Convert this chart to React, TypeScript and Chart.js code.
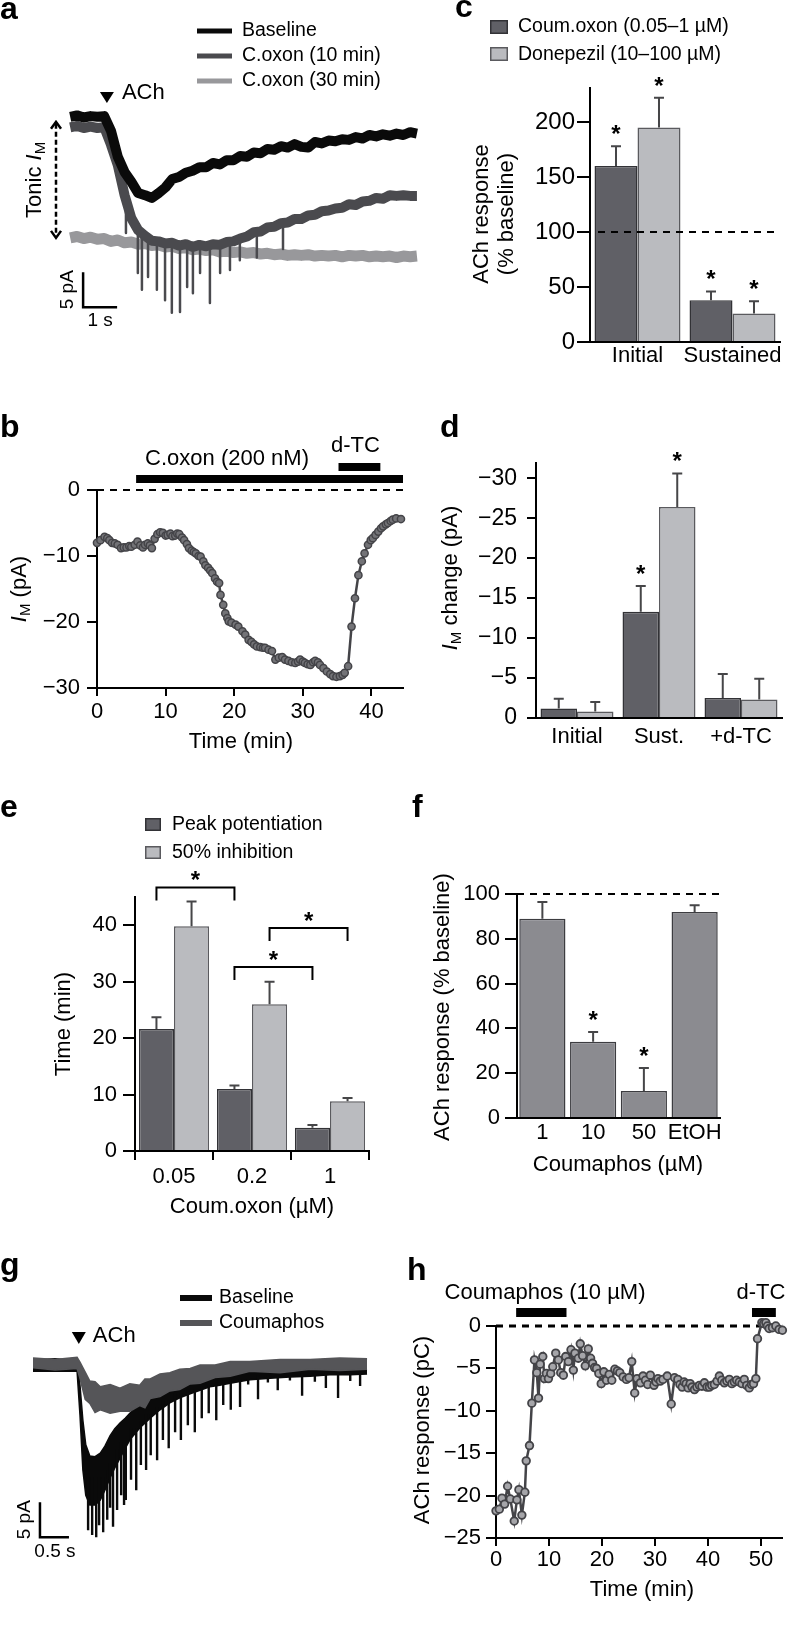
import React, { useEffect, useRef } from 'react';
import { Chart, registerables } from 'chart.js';

Chart.register(...registerables);

const FONT = "'Liberation Sans', Arial, Helvetica, sans-serif";
Chart.defaults.font.family = FONT;
Chart.defaults.color = '#000';

const DARK = 'rgb(96,96,102)';
const DARK_EDGE = 'rgb(50,50,54)';
const LIGHT = 'rgb(186,187,191)';
const LIGHT_EDGE = 'rgb(90,90,94)';
const MID = 'rgb(139,139,144)';
const ERR = 'rgb(70,70,72)';
const LINE = 'rgb(68,68,72)';

// ---------------- Panel a : ACh currents ----------------
const aLegend = ['Baseline', 'C.oxon (10 min)', 'C.oxon (30 min)'];
const aTime = [0.3, 0.5, 0.7, 0.9, 1.1, 1.3, 1.5, 1.7, 1.9, 2.1, 2.3, 2.5, 2.7, 2.9, 3.1, 3.3, 3.5, 3.7, 3.9, 4.1, 4.3, 4.5, 4.7, 4.9, 5.1, 5.3, 5.5, 5.7, 5.9, 6.1, 6.3, 6.5, 6.7, 6.9, 7.1, 7.3, 7.5, 7.7, 7.9, 8.1, 8.3, 8.5, 8.7, 8.9, 9.1, 9.3, 9.5, 9.7, 9.9, 10.1, 10.3, 10.5];
const aBaseline = [-2.4, -2.2, -2.5, -2.3, -2.4, -2.3, -4.4, -8.1, -10.3, -11.7, -13.3, -13.6, -14.0, -13.3, -12.5, -11.3, -11.0, -10.4, -10.1, -9.6, -9.6, -9.0, -9.2, -8.6, -8.6, -8.0, -8.1, -7.5, -7.6, -7.0, -7.1, -6.6, -6.8, -6.3, -6.7, -6.8, -6.0, -6.2, -5.8, -5.9, -5.6, -5.7, -5.3, -5.5, -5.0, -5.2, -4.9, -5.1, -4.8, -5.0, -4.6, -4.8];
const aCoxon10 = [-3.9, -3.7, -4.0, -3.8, -4.0, -3.9, -6.4, -9.3, -13.6, -16.9, -18.6, -19.4, -20.1, -20.2, -20.5, -20.4, -20.8, -20.6, -21.0, -20.7, -20.9, -20.6, -20.7, -20.3, -20.2, -19.8, -19.5, -18.9, -18.8, -18.2, -18.1, -17.6, -17.5, -17.0, -17.0, -16.5, -16.4, -15.9, -15.8, -15.5, -15.4, -14.9, -15.0, -14.5, -14.4, -14.0, -14.1, -13.6, -13.7, -13.6, -13.7, -13.7];
const aCoxon30 = [-19.7, -19.5, -19.8, -19.6, -19.9, -19.8, -20.2, -20.0, -20.4, -20.3, -20.6, -20.5, -20.8, -20.7, -21.0, -20.9, -21.2, -21.1, -21.4, -21.3, -21.5, -21.4, -21.7, -21.6, -21.8, -21.7, -21.9, -21.8, -22.0, -21.9, -22.1, -22.0, -22.2, -22.1, -22.2, -22.1, -22.3, -22.2, -22.3, -22.2, -22.4, -22.2, -22.3, -22.2, -22.4, -22.3, -22.4, -22.3, -22.5, -22.3, -22.4, -22.3];
const aSpikeTime = [1.94, 2.29, 2.41, 2.59, 2.85, 3.09, 3.29, 3.53, 3.74, 3.91, 4.12, 4.41, 4.71, 5.0, 5.29, 5.79, 6.56];
const aSpikeTop = [-14.5, -18.5, -19.0, -19.5, -20.0, -20.2, -20.5, -20.5, -20.5, -20.5, -20.5, -20.5, -20.5, -20.0, -19.5, -18.8, -17.5];
const aSpikeBottom = [-19.0, -24.7, -27.1, -25.3, -27.1, -28.6, -30.4, -30.3, -26.7, -27.6, -24.7, -29.0, -24.7, -24.3, -22.9, -22.5, -21.3];
const aAchTime = 1.38;
const aScaleBarT = 0.68;
const aScaleBarV = -29.6;

// ---------------- Panel b : I_M time course ----------------
const bTime = [0.0, 0.5, 1.1, 1.5, 1.8, 2.2, 2.6, 3.0, 3.5, 3.9, 4.3, 4.7, 5.0, 5.5, 5.9, 6.3, 6.7, 7.0, 7.4, 7.7, 8.0, 8.4, 8.8, 9.2, 9.6, 10.0, 10.3, 10.7, 11.0, 11.4, 11.7, 12.0, 12.4, 12.7, 13.1, 13.4, 13.8, 14.1, 14.4, 14.8, 15.1, 15.5, 15.8, 16.2, 16.5, 16.8, 17.2, 17.5, 17.8, 18.0, 18.4, 18.7, 19.0, 19.2, 19.6, 20.2, 20.6, 21.2, 21.6, 22.1, 22.5, 22.9, 23.3, 23.8, 24.2, 24.5, 25.0, 25.5, 26.0, 26.5, 27.0, 27.4, 27.9, 28.4, 28.9, 29.3, 29.6, 30.0, 30.3, 30.7, 31.1, 31.5, 31.8, 32.2, 32.5, 33.0, 33.5, 34.0, 34.4, 34.9, 35.4, 35.8, 36.1, 36.6, 37.1, 37.6, 38.1, 38.6, 39.0, 39.5, 39.9, 40.2, 40.6, 41.0, 41.4, 41.7, 42.1, 42.4, 42.8, 43.1, 43.6, 44.3];
const bCurrent = [-8.0, -7.6, -7.1, -7.3, -7.6, -8.0, -8.1, -8.3, -8.8, -8.7, -8.7, -8.5, -8.6, -8.3, -7.8, -8.4, -8.7, -8.3, -8.1, -8.4, -8.8, -7.4, -6.7, -6.4, -6.5, -6.9, -6.8, -6.6, -7.0, -6.9, -6.6, -6.7, -7.2, -7.6, -8.2, -8.8, -9.2, -9.4, -9.6, -10.0, -10.1, -10.8, -11.4, -11.8, -12.2, -12.6, -13.4, -13.9, -14.1, -15.9, -17.4, -18.7, -19.4, -19.9, -20.1, -20.4, -20.7, -21.4, -21.9, -22.7, -23.0, -23.4, -23.7, -23.8, -23.9, -23.9, -24.2, -24.4, -25.7, -25.4, -25.3, -25.7, -25.9, -26.1, -26.2, -26.0, -25.7, -26.0, -26.2, -26.4, -26.5, -26.1, -25.9, -26.1, -26.5, -27.0, -27.5, -27.9, -28.2, -28.3, -28.2, -28.0, -27.7, -26.7, -20.7, -16.4, -12.9, -10.8, -9.6, -8.3, -7.6, -7.3, -6.8, -6.3, -5.8, -5.5, -5.2, -5.0, -4.7, -4.5, -4.3, -4.4];
const bTicksX = [0, 10, 20, 30, 40];
const bTicksY = [0, -10, -20, -30];
const bCoxonBar = [5.7, 44.6];
const bDtcBar = [35.2, 41.3];

// ---------------- Panel c : ACh response ----------------
const cCategories = ['Initial', 'Sustained'];
const cSeries = ['Coum.oxon (0.05\u20131 \u00b5M)', 'Donepezil (10\u2013100 \u00b5M)'];
const cCoumoxon = [160, 38];
const cCoumoxonSem = [18, 8];
const cCoumoxonStar = [true, true];
const cDonepezil = [195, 26];
const cDonepezilSem = [27, 11];
const cDonepezilStar = [true, true];
const cTicks = [0, 50, 100, 150, 200];
const cYTitle = ['ACh response', '(% baseline)'];

// ---------------- Panel d : I_M change ----------------
const dCategories = ['Initial', 'Sust.', '+d-TC'];
const dCoumoxon = [-1.2, -13.3, -2.5];
const dCoumoxonSem = [1.2, 3.2, 3.0];
const dCoumoxonStar = [false, true, false];
const dDonepezil = [-0.8, -26.4, -2.3];
const dDonepezilSem = [1.2, 4.2, 2.6];
const dDonepezilStar = [false, true, false];
const dTicks = [0, -5, -10, -15, -20, -25, -30];

// ---------------- Panel e : timing ----------------
const eCategories = ['0.05', '0.2', '1'];
const eSeries = ['Peak potentiation', '50% inhibition'];
const ePeak = [21.6, 11.0, 4.1];
const ePeakSem = [2.1, 0.6, 0.5];
const eHalf = [39.8, 26.0, 8.8];
const eHalfSem = [4.4, 4.0, 0.6];
const eTicks = [0, 10, 20, 30, 40];
const eBracketSeries = [0, 0, 1];
const eBracketFrom = [0, 1, 1];
const eBracketTo = [1, 2, 2];
const eBracketLevel = [46.7, 32.6, 39.5];

// ---------------- Panel f : coumaphos ----------------
const fCategories = ['1', '10', '50', 'EtOH'];
const fResponse = [89, 34, 12, 92];
const fSem = [7.4, 4.4, 10.3, 3.0];
const fStar = [false, true, true, false];
const fTicks = [0, 20, 40, 60, 80, 100];

// ---------------- Panel g : traces ----------------
const gLegend = ['Baseline', 'Coumaphos'];
const gBodyTime = [0, 0.38, 0.76, 0.81, 0.86, 0.91, 0.98, 1.07, 1.16, 1.24, 1.33, 1.41, 1.5, 1.59, 1.67, 1.84, 2.02, 2.19, 2.36, 2.53, 2.71, 2.88, 3.05, 3.22, 3.4, 3.74, 4.09, 4.43, 4.78, 5.12, 5.47, 5.76];
const gBaseUpper = [0.7, 0.9, 0.6, -2.9, -7.9, -11.4, -13.0, -13.1, -12.6, -11.6, -10.1, -9.1, -8.3, -7.6, -6.9, -5.6, -4.7, -4.0, -3.4, -3.0, -2.7, -2.4, -2.0, -1.7, -1.4, -0.7, -0.3, 0.0, 0.3, 0.4, 0.7, 0.9];
const gBaseLower = [-0.9, -0.9, -0.9, -7.1, -15.0, -18.6, -20.0, -20.0, -19.3, -17.9, -16.1, -14.7, -13.3, -11.9, -10.7, -9.0, -7.6, -6.4, -5.4, -4.7, -4.1, -3.6, -3.1, -2.9, -2.6, -2.1, -1.9, -1.7, -1.6, -1.4, -1.4, -1.3];
const gSpikeTime = [0.95, 1.02, 1.09, 1.14, 1.21, 1.28, 1.33, 1.38, 1.45, 1.52, 1.57, 1.6, 1.69, 1.78, 1.86, 1.95, 2.03, 2.14, 2.24, 2.34, 2.45, 2.55, 2.67, 2.79, 2.91, 3.03, 3.16, 3.28, 3.41, 3.57, 3.71, 3.88, 4.05, 4.22, 4.43, 4.64, 4.86, 5.05, 5.26, 5.47, 5.64];
const gSpikeTop = [-16, -16, -16, -16, -16, -15, -14, -14, -12, -11, -11, -11, -9, -9, -8, -7, -7, -6, -5, -5, -4, -4, -3.5, -3.5, -3, -3, -2.5, -2.5, -2, -2, -2, -1.5, -1.5, -1.5, -1.5, -1.2, -1.2, -1.2, -1.2, -1.2, -1.2];
const gSpikeBottom = [-23.6, -24.3, -24.6, -22.9, -23.9, -22.1, -20.4, -23.1, -20.7, -18.6, -20.0, -19.3, -16.4, -17.9, -14.3, -15.0, -12.9, -13.6, -10.7, -11.9, -9.6, -10.7, -8.6, -9.6, -7.6, -6.9, -7.9, -5.7, -6.4, -6.0, -2.8, -4.9, -2.5, -3.6, -2.2, -4.4, -2.4, -3.3, -4.7, -2.3, -3.0];
const gCoumTime = [0, 0.38, 0.76, 0.81, 0.9, 0.98, 1.07, 1.16, 1.33, 1.5, 1.67, 1.84, 1.93, 2.02, 2.19, 2.36, 2.53, 2.71, 2.88, 3.14, 3.4, 3.74, 4.26, 4.78, 5.29, 5.76];
const gCoumUpper = [1.0, 0.8, 1.1, 0.4, -1.0, -2.3, -2.4, -3.1, -2.8, -3.3, -2.7, -2.9, -2.0, -2.0, -1.3, -1.1, -0.6, -0.5, 0.0, 0.0, 0.5, 0.5, 0.8, 0.8, 1.0, 0.9];
const gCoumLower = [-0.4, -0.7, -0.5, -1.9, -4.9, -5.5, -6.8, -6.4, -6.9, -6.6, -6.6, -5.8, -6.1, -4.8, -4.5, -3.7, -3.5, -2.7, -2.6, -1.8, -1.6, -0.9, -1.1, -0.6, -0.8, -0.6];
const gAchTime = 0.79;
const gScaleBarT = 0.12;
const gScaleBarV = -24.6;

// ---------------- Panel h : ACh charge ----------------
const hTime = [0.0, 0.63, 1.13, 1.63, 2.19, 2.69, 3.44, 3.94, 4.32, 4.88, 5.45, 5.7, 6.32, 6.76, 7.26, 7.7, 8.02, 8.33, 8.83, 9.14, 9.5, 9.89, 10.33, 10.71, 11.27, 11.77, 12.21, 12.71, 13.15, 13.65, 14.15, 14.59, 14.9, 15.53, 15.9, 16.34, 16.84, 17.41, 17.85, 18.22, 18.6, 18.97, 19.4, 19.85, 20.35, 20.85, 21.35, 21.85, 22.42, 22.9, 23.36, 23.98, 24.61, 25.1, 25.61, 26.17, 26.61, 27.24, 27.74, 28.2, 28.62, 29.12, 29.81, 30.2, 30.56, 31.0, 31.5, 32.31, 33.06, 33.69, 34.31, 34.7, 35.13, 35.5, 35.88, 36.25, 36.63, 37.0, 37.45, 37.9, 38.38, 38.85, 39.32, 39.8, 40.26, 40.7, 41.2, 41.7, 42.14, 42.6, 43.08, 43.55, 44.02, 44.5, 44.96, 45.4, 45.9, 46.4, 46.84, 47.3, 47.78, 48.2, 48.59, 49.03, 49.34, 50.16, 50.5, 50.91, 51.2, 51.53, 52.16, 52.79, 53.41, 54.04];
const hCharge = [-21.8, -21.6, -20.3, -21.0, -18.9, -20.4, -23.0, -20.5, -19.3, -22.3, -19.6, -15.9, -14.1, -9.1, -4.0, -5.5, -8.5, -4.5, -3.6, -6.2, -5.6, -6.2, -5.6, -4.8, -3.2, -4.0, -5.5, -5.8, -3.6, -4.2, -2.8, -5.2, -3.2, -3.8, -2.1, -3.5, -4.7, -2.7, -3.8, -4.4, -4.9, -5.0, -5.6, -6.8, -5.4, -6.4, -5.7, -6.4, -5.1, -5.3, -5.5, -6.0, -6.3, -6.1, -4.2, -7.9, -6.2, -6.7, -5.9, -6.4, -6.9, -5.8, -7.0, -6.6, -6.2, -6.5, -6.3, -5.9, -9.2, -6.1, -6.3, -6.9, -7.2, -6.6, -6.8, -7.3, -6.8, -7.2, -7.5, -7.2, -7.0, -7.1, -6.7, -7.2, -7.2, -7.0, -6.9, -6.5, -5.9, -6.4, -6.7, -6.5, -6.3, -6.8, -6.6, -6.4, -6.6, -6.8, -6.3, -7.0, -7.3, -6.9, -6.8, -6.2, -1.5, 0.4, 0.3, 0.4, 0.0, -0.3, -0.2, 0.0, -0.4, -0.5];
const hTicksX = [0, 10, 20, 30, 40, 50];
const hTicksY = [0, -5, -10, -15, -20, -25];
const hCoumBar = [3.8, 13.3];
const hDtcBar = [48.3, 52.8];

// ---------------- helpers ----------------
type Rect = { x: number; y: number; w: number; h: number };
type Area = { x1: number; y1: number; x2: number; y2: number };

function padFor(r: Rect, a: Area, yW: number, xH: number) {
  return { left: a.x1 - r.x - yW, top: a.y1 - r.y, right: r.x + r.w - a.x2, bottom: r.y + r.h - a.y2 - xH };
}

function fixSize(size: number) {
  return (s: any) => {
    if (s.isHorizontal()) s.height = size;
    else s.width = size;
    s.paddingLeft = 0;
    s.paddingRight = 0;
    s.paddingTop = 0;
    s.paddingBottom = 0;
  };
}

const fmt = (v: number) => (v < 0 ? '\u2212' + Math.abs(v) : String(v));

function linAxis(o: any) {
  return {
    type: 'linear',
    min: o.min,
    max: o.max,
    reverse: !!o.reverse,
    afterFit: fixSize(o.size),
    afterBuildTicks: (s: any) => {
      s.ticks = o.ticks.map((v: number) => ({ value: v }));
    },
    grid: { display: true, drawOnChartArea: false, drawTicks: true, tickLength: o.tickLength, color: '#000', lineWidth: 2 },
    border: { display: true, color: '#000', width: 2 },
    ticks: { color: '#000', font: { family: FONT, size: o.font }, padding: o.pad, autoSkip: false, maxRotation: 0, callback: (v: any) => fmt(Number(v)) },
  };
}

function catAxis(o: any) {
  const t = o.tickLength > 0;
  return {
    type: 'category',
    offset: true,
    afterFit: fixSize(o.size),
    grid: { display: t, offset: true, drawOnChartArea: false, drawTicks: t, tickLength: o.tickLength, color: '#000', lineWidth: 2 },
    border: { display: true, color: '#000', width: 2 },
    ticks: { color: '#000', font: { family: FONT, size: o.font }, padding: o.pad, autoSkip: false, maxRotation: 0 },
  };
}

function common(r: Rect, a: Area, yW: number, xH: number) {
  return {
    responsive: false,
    animation: false,
    events: [],
    layout: { padding: padFor(r, a, yW, xH) },
    plugins: { legend: { display: false }, tooltip: { enabled: false }, title: { display: false } },
  };
}

function barDs(label: string, data: number[], sem: number[], stars: boolean[], bg: string, edge: string, catPct: number) {
  return { label, data, sem, stars, backgroundColor: bg, borderColor: edge, borderWidth: 1.5, categoryPercentage: catPct, barPercentage: 1 };
}

function text(ctx: any, s: string, x: number, y: number, size: number, align = 'left', weight = 'normal') {
  ctx.font = `${weight} ${size}px ${FONT}`;
  ctx.textAlign = align;
  ctx.textBaseline = 'middle';
  ctx.fillStyle = '#000';
  ctx.fillText(s, x, y);
}

function letter(ctx: any, s: string, x: number, base: number) {
  ctx.font = `bold 32px ${FONT}`;
  ctx.textAlign = 'left';
  ctx.textBaseline = 'alphabetic';
  ctx.fillStyle = '#000';
  ctx.fillText(s, x, base);
}

type Part = { t: string; size: number; italic?: boolean; dy?: number };
function rich(ctx: any, parts: Part[], cx: number, cy: number, vertical: boolean) {
  ctx.save();
  ctx.translate(cx, cy);
  if (vertical) ctx.rotate(-Math.PI / 2);
  ctx.textAlign = 'left';
  ctx.textBaseline = 'middle';
  ctx.fillStyle = '#000';
  let total = 0;
  for (const p of parts) {
    ctx.font = `${p.italic ? 'italic ' : ''}${p.size}px ${FONT}`;
    total += ctx.measureText(p.t).width;
  }
  let x = -total / 2;
  for (const p of parts) {
    ctx.font = `${p.italic ? 'italic ' : ''}${p.size}px ${FONT}`;
    ctx.fillText(p.t, x, p.dy || 0);
    x += ctx.measureText(p.t).width;
  }
  ctx.restore();
}

function vtext(ctx: any, s: string, cx: number, cy: number, size: number) {
  rich(ctx, [{ t: s, size }], cx, cy, true);
}

function dashed(ctx: any, x1: number, x2: number, y: number, w = 2, dash = [7, 6]) {
  ctx.save();
  ctx.setLineDash(dash);
  ctx.lineWidth = w;
  ctx.strokeStyle = '#000';
  ctx.beginPath();
  ctx.moveTo(x1, y);
  ctx.lineTo(x2, y);
  ctx.stroke();
  ctx.restore();
}

function box(ctx: any, x: number, y: number, w: number, h: number, fill: string, edge: string) {
  ctx.fillStyle = fill;
  ctx.fillRect(x, y, w, h);
  ctx.strokeStyle = edge;
  ctx.lineWidth = 1.5;
  ctx.strokeRect(x + 0.75, y + 0.75, w - 1.5, h - 1.5);
}

function star(ctx: any, x: number, yc: number) {
  ctx.font = `bold 24px ${FONT}`;
  ctx.textAlign = 'center';
  ctx.textBaseline = 'alphabetic';
  ctx.fillStyle = '#000';
  ctx.fillText('*', x, yc + 13);
}

function errorBars(chart: any, r: Rect, ctx: any) {
  const ys = chart.scales.y;
  chart.data.datasets.forEach((ds: any, di: number) => {
    if (!ds.sem) return;
    const meta = chart.getDatasetMeta(di);
    meta.data.forEach((el: any, i: number) => {
      const v = ds.data[i];
      const s = ds.sem[i];
      const x = el.x + r.x;
      const y0 = el.y + r.y;
      const y1 = ys.getPixelForValue(v + Math.sign(v) * s) + r.y;
      ctx.strokeStyle = ERR;
      ctx.lineWidth = 2;
      ctx.beginPath();
      ctx.moveTo(x, y0);
      ctx.lineTo(x, y1);
      ctx.moveTo(x - 5, y1);
      ctx.lineTo(x + 5, y1);
      ctx.stroke();
      if (ds.stars && ds.stars[i]) star(ctx, x, y1 - 17);
    });
  });
}

function pts(xs: number[], ys: number[]) {
  return xs.map((x, i) => ({ x, y: ys[i] }));
}

function spikePts(ts: number[], tops: number[], bottoms: number[]) {
  const out: any[] = [];
  ts.forEach((t, i) => {
    out.push({ x: t, y: tops[i] }, { x: t, y: bottoms[i] }, { x: t, y: null });
  });
  return out;
}

function ChartBox({ rect, make }: { rect: Rect; make: () => any }) {
  const ref = useRef<HTMLCanvasElement | null>(null);
  useEffect(() => {
    if (!ref.current) return;
    const chart = new Chart(ref.current, make());
    return () => chart.destroy();
  }, [make]);
  return (
    <canvas
      ref={ref}
      width={rect.w}
      height={rect.h}
      style={{ position: 'absolute', left: rect.x, top: rect.y, width: rect.w, height: rect.h }}
    />
  );
}

// ---------------- Panel a ----------------
const RA: Rect = { x: 0, y: 0, w: 430, h: 340 };
const AA: Area = { x1: 39.6, y1: 100, x2: 420, y2: 320 };
const aColors = ['rgb(10,10,10)', 'rgb(74,74,78)', 'rgb(152,152,155)'];
function makeA() {
  const line = (data: any, color: string, w: number) => ({ data, borderColor: color, borderWidth: w, pointRadius: 0, tension: 0, fill: false, borderJoinStyle: 'round' });
  return {
    type: 'line',
    data: {
      datasets: [
        line(pts(aTime, aBaseline), aColors[0], 10),
        line(pts(aTime, aCoxon10), aColors[1], 10),
        { ...line(spikePts(aSpikeTime, aSpikeTop, aSpikeBottom), aColors[1], 2.5), spanGaps: false },
        line(pts(aTime, aCoxon30), aColors[2], 11),
      ],
    },
    options: {
      ...common(RA, AA, 0, 0),
      scales: {
        x: { type: 'linear', display: false, min: -0.6, max: 10.59 },
        y: { type: 'linear', display: false, min: -31.43, max: 0 },
      },
    },
    plugins: [
      {
        id: 'decorA',
        afterDraw: (chart: any) => {
          const ctx = chart.ctx;
          const X = (v: number) => chart.scales.x.getPixelForValue(v) + RA.x;
          const Y = (v: number) => chart.scales.y.getPixelForValue(v) + RA.y;
          ctx.save();
          ctx.translate(-RA.x, -RA.y);
          letter(ctx, 'a', 0, 19);
          aLegend.forEach((s, i) => {
            const y = 31 + i * 25;
            ctx.strokeStyle = aColors[i];
            ctx.lineWidth = 5;
            ctx.beginPath();
            ctx.moveTo(197, y);
            ctx.lineTo(232, y);
            ctx.stroke();
            text(ctx, s, 242, y, 19.5);
          });
          const ax = X(aAchTime);
          ctx.fillStyle = '#000';
          ctx.beginPath();
          ctx.moveTo(ax - 7, 92);
          ctx.lineTo(ax + 7, 92);
          ctx.lineTo(ax, 103);
          ctx.closePath();
          ctx.fill();
          text(ctx, 'ACh', ax + 15, 93, 22);
          const tx = X(0) - 4;
          const yT = Y(aBaseline[0]) + 5;
          const yB = Y(aCoxon30[0]);
          ctx.save();
          ctx.strokeStyle = '#000';
          ctx.lineWidth = 2.5;
          ctx.setLineDash([5, 3]);
          ctx.beginPath();
          ctx.moveTo(tx, yT + 2);
          ctx.lineTo(tx, yB - 2);
          ctx.stroke();
          ctx.setLineDash([]);
          ctx.beginPath();
          ctx.moveTo(tx - 5, yT + 7);
          ctx.lineTo(tx, yT);
          ctx.lineTo(tx + 5, yT + 7);
          ctx.moveTo(tx - 5, yB - 7);
          ctx.lineTo(tx, yB);
          ctx.lineTo(tx + 5, yB - 7);
          ctx.stroke();
          ctx.restore();
          rich(ctx, [{ t: 'Tonic ', size: 22 }, { t: 'I', size: 22, italic: true }, { t: 'M', size: 15, dy: 6 }], tx - 21, (yT + yB) / 2, true);
          const sx0 = X(aScaleBarT);
          const sx1 = X(aScaleBarT + 1);
          const sy0 = Y(aScaleBarV);
          const sy1 = Y(aScaleBarV + 5);
          ctx.strokeStyle = '#000';
          ctx.lineWidth = 2.5;
          ctx.beginPath();
          ctx.moveTo(sx0, sy1);
          ctx.lineTo(sx0, sy0);
          ctx.lineTo(sx1, sy0);
          ctx.stroke();
          vtext(ctx, '5 pA', sx0 - 15, (sy0 + sy1) / 2, 19);
          text(ctx, '1 s', (sx0 + sx1) / 2, sy0 + 14, 19, 'center');
          ctx.restore();
        },
      },
    ],
  };
}

// ---------------- Panel b ----------------
const RB: Rect = { x: 0, y: 385, w: 420, h: 375 };
const AB: Area = { x1: 97, y1: 490, x2: 403, y2: 688 };
function makeB() {
  return {
    type: 'line',
    data: {
      datasets: [
        {
          data: pts(bTime, bCurrent),
          borderColor: LINE,
          borderWidth: 2.5,
          pointRadius: 3.6,
          pointBackgroundColor: 'rgb(115,115,119)',
          pointBorderColor: LINE,
          pointBorderWidth: 1.5,
          tension: 0,
          clip: false,
        },
      ],
    },
    options: {
      ...common(RB, AB, 97, 72),
      scales: {
        x: linAxis({ min: 0, max: 44.6, ticks: bTicksX, size: 72, tickLength: 8, pad: 3, font: 22 }),
        y: linAxis({ min: -30, max: 0, ticks: bTicksY, size: 97, tickLength: 10, pad: 7, font: 22 }),
      },
    },
    plugins: [
      {
        id: 'decorB',
        beforeDatasetsDraw: (chart: any) => {
          const ca = chart.chartArea;
          dashed(chart.ctx, ca.left, ca.right, chart.scales.y.getPixelForValue(0), 2);
        },
        afterDraw: (chart: any) => {
          const ctx = chart.ctx;
          const ca = chart.chartArea;
          const X = (v: number) => chart.scales.x.getPixelForValue(v) + RB.x;
          const top = ca.top + RB.y;
          ctx.save();
          ctx.translate(-RB.x, -RB.y);
          letter(ctx, 'b', 0, 437);
          ctx.fillStyle = '#000';
          ctx.fillRect(X(bCoxonBar[0]), top - 15, X(bCoxonBar[1]) - X(bCoxonBar[0]), 8);
          ctx.fillRect(X(bDtcBar[0]), top - 27, X(bDtcBar[1]) - X(bDtcBar[0]), 8);
          text(ctx, 'C.oxon (200 nM)', X(bCoxonBar[0]) + 9, top - 31, 22);
          text(ctx, 'd-TC', (X(bDtcBar[0]) + X(bDtcBar[1])) / 2 - 4, top - 44, 22, 'center');
          rich(ctx, [{ t: 'I', size: 22, italic: true }, { t: 'M', size: 15, dy: 6 }, { t: ' (pA)', size: 22 }], 20, 589, true);
          text(ctx, 'Time (min)', 241, 742, 22, 'center');
          ctx.restore();
        },
      },
    ],
  };
}

// ---------------- Panel c ----------------
const RC: Rect = { x: 400, y: 0, w: 388, h: 375 };
const AC: Area = { x1: 590, y1: 88, x2: 780, y2: 342 };
function makeC() {
  return {
    type: 'bar',
    data: {
      labels: cCategories,
      datasets: [
        barDs(cSeries[0], cCoumoxon, cCoumoxonSem, cCoumoxonStar, DARK, DARK_EDGE, 0.905),
        barDs(cSeries[1], cDonepezil, cDonepezilSem, cDonepezilStar, LIGHT, LIGHT_EDGE, 0.905),
      ],
    },
    options: {
      ...common(RC, AC, 190, 33),
      scales: {
        x: catAxis({ size: 33, tickLength: 0, pad: 1, font: 22 }),
        y: linAxis({ min: 0, max: 230.9, ticks: cTicks, size: 190, tickLength: 13, pad: 2, font: 24 }),
      },
    },
    plugins: [
      {
        id: 'decorC',
        afterDraw: (chart: any) => {
          const ctx = chart.ctx;
          const ca = chart.chartArea;
          const Y = (v: number) => chart.scales.y.getPixelForValue(v) + RC.y;
          ctx.save();
          ctx.translate(-RC.x, -RC.y);
          letter(ctx, 'c', 455, 17);
          box(ctx, 490, 20, 18, 14, DARK, DARK_EDGE);
          text(ctx, cSeries[0], 518, 27, 19.5);
          box(ctx, 490, 47, 18, 14, LIGHT, LIGHT_EDGE);
          text(ctx, cSeries[1], 518, 55, 19.5);
          dashed(ctx, ca.left + RC.x + 8, ca.right + RC.x, Y(100), 2);
          errorBars(chart, RC, ctx);
          vtext(ctx, cYTitle[0], 482, 214, 22);
          vtext(ctx, cYTitle[1], 507, 214, 22);
          ctx.restore();
        },
      },
    ],
  };
}

// ---------------- Panel d ----------------
const RD: Rect = { x: 400, y: 385, w: 388, h: 375 };
const AD: Area = { x1: 536, y1: 463, x2: 782, y2: 718 };
function makeD() {
  return {
    type: 'bar',
    data: {
      labels: dCategories,
      datasets: [
        barDs('Coum.oxon', dCoumoxon, dCoumoxonSem, dCoumoxonStar, DARK, DARK_EDGE, 0.89),
        barDs('Donepezil', dDonepezil, dDonepezilSem, dDonepezilStar, LIGHT, LIGHT_EDGE, 0.89),
      ],
    },
    options: {
      ...common(RD, AD, 136, 42),
      scales: {
        x: catAxis({ size: 42, tickLength: 0, pad: 6, font: 22 }),
        y: linAxis({ min: -31.9, max: 0, reverse: true, ticks: dTicks, size: 136, tickLength: 9, pad: 10, font: 23 }),
      },
    },
    plugins: [
      {
        id: 'decorD',
        afterDraw: (chart: any) => {
          const ctx = chart.ctx;
          ctx.save();
          ctx.translate(-RD.x, -RD.y);
          letter(ctx, 'd', 440, 437);
          errorBars(chart, RD, ctx);
          rich(ctx, [{ t: 'I', size: 22, italic: true }, { t: 'M', size: 15, dy: 6 }, { t: ' change (pA)', size: 22 }], 451, 578, true);
          ctx.restore();
        },
      },
    ],
  };
}

// ---------------- Panel e ----------------
const RE: Rect = { x: 0, y: 775, w: 400, h: 445 };
const AE: Area = { x1: 135, y1: 897, x2: 369, y2: 1151 };
function makeE() {
  return {
    type: 'bar',
    data: {
      labels: eCategories,
      datasets: [
        barDs(eSeries[0], ePeak, ePeakSem, [false, false, false], DARK, DARK_EDGE, 0.9),
        barDs(eSeries[1], eHalf, eHalfSem, [false, false, false], LIGHT, LIGHT_EDGE, 0.9),
      ],
    },
    options: {
      ...common(RE, AE, 135, 69),
      scales: {
        x: catAxis({ size: 69, tickLength: 9, pad: 4, font: 22 }),
        y: linAxis({ min: 0, max: 45, ticks: eTicks, size: 135, tickLength: 12, pad: 6, font: 22 }),
      },
    },
    plugins: [
      {
        id: 'decorE',
        afterDraw: (chart: any) => {
          const ctx = chart.ctx;
          const Y = (v: number) => chart.scales.y.getPixelForValue(v) + RE.y;
          ctx.save();
          ctx.translate(-RE.x, -RE.y);
          letter(ctx, 'e', 0, 817);
          box(ctx, 145, 818, 16, 13, DARK, DARK_EDGE);
          text(ctx, eSeries[0], 172, 825, 19.5);
          box(ctx, 145, 846, 16, 13, LIGHT, LIGHT_EDGE);
          text(ctx, eSeries[1], 172, 853, 19.5);
          errorBars(chart, RE, ctx);
          eBracketLevel.forEach((lvl, i) => {
            const meta = chart.getDatasetMeta(eBracketSeries[i]);
            const x1 = meta.data[eBracketFrom[i]].x + RE.x;
            const x2 = meta.data[eBracketTo[i]].x + RE.x;
            const y = Y(lvl);
            ctx.strokeStyle = '#000';
            ctx.lineWidth = 2;
            ctx.beginPath();
            ctx.moveTo(x1, y + 13);
            ctx.lineTo(x1, y);
            ctx.lineTo(x2, y);
            ctx.lineTo(x2, y + 13);
            ctx.stroke();
            star(ctx, (x1 + x2) / 2, y - 12);
          });
          vtext(ctx, 'Time (min)', 64, 1024, 22);
          text(ctx, 'Coum.oxon (\u00b5M)', 252, 1207, 22, 'center');
          ctx.restore();
        },
      },
    ],
  };
}

// ---------------- Panel f ----------------
const RF: Rect = { x: 400, y: 775, w: 388, h: 400 };
const AF: Area = { x1: 517, y1: 894, x2: 720, y2: 1118 };
function makeF() {
  return {
    type: 'bar',
    data: {
      labels: fCategories,
      datasets: [barDs('Coumaphos', fResponse, fSem, fStar, MID, 'rgb(60,60,64)', 0.91)],
    },
    options: {
      ...common(RF, AF, 117, 57),
      scales: {
        x: catAxis({ size: 57, tickLength: 0, pad: 2, font: 22 }),
        y: linAxis({ min: 0, max: 100, ticks: fTicks, size: 117, tickLength: 12, pad: 5, font: 22 }),
      },
    },
    plugins: [
      {
        id: 'decorF',
        afterDraw: (chart: any) => {
          const ctx = chart.ctx;
          const ca = chart.chartArea;
          const Y = (v: number) => chart.scales.y.getPixelForValue(v) + RF.y;
          ctx.save();
          ctx.translate(-RF.x, -RF.y);
          letter(ctx, 'f', 412, 817);
          dashed(ctx, ca.left + RF.x, ca.right + RF.x, Y(100), 2);
          errorBars(chart, RF, ctx);
          vtext(ctx, 'ACh response (% baseline)', 443, 1007, 22);
          text(ctx, 'Coumaphos (\u00b5M)', 618, 1165, 22, 'center');
          ctx.restore();
        },
      },
    ],
  };
}

// ---------------- Panel g ----------------
const RG: Rect = { x: 0, y: 1240, w: 400, h: 387 };
const AG: Area = { x1: 30, y1: 1340, x2: 375, y2: 1550 };
const gColors = ['rgb(10,10,10)', 'rgb(85,85,88)'];
function makeG() {
  const edge = (data: any, color: string, fill: any) => ({ data, borderColor: color, borderWidth: 1.5, pointRadius: 0, tension: 0, fill, backgroundColor: color });
  return {
    type: 'line',
    data: {
      datasets: [
        edge(pts(gCoumTime, gCoumUpper), gColors[1], false),
        edge(pts(gCoumTime, gCoumLower), gColors[1], '-1'),
        { data: spikePts(gSpikeTime, gSpikeTop, gSpikeBottom), borderColor: gColors[0], borderWidth: 2.4, pointRadius: 0, tension: 0, fill: false, spanGaps: false },
        edge(pts(gBodyTime, gBaseUpper), gColors[0], false),
        edge(pts(gBodyTime, gBaseLower), gColors[0], '-1'),
      ],
    },
    options: {
      ...common(RG, AG, 0, 0),
      scales: {
        x: { type: 'linear', display: false, min: -0.0517, max: 5.897 },
        y: { type: 'linear', display: false, min: -26.43, max: 3.571 },
      },
    },
    plugins: [
      {
        id: 'decorG',
        afterDraw: (chart: any) => {
          const ctx = chart.ctx;
          const X = (v: number) => chart.scales.x.getPixelForValue(v) + RG.x;
          const Y = (v: number) => chart.scales.y.getPixelForValue(v) + RG.y;
          ctx.save();
          ctx.translate(-RG.x, -RG.y);
          letter(ctx, 'g', 0, 1275);
          gLegend.forEach((s, i) => {
            const y = 1298 + i * 25;
            ctx.strokeStyle = gColors[i];
            ctx.lineWidth = 6;
            ctx.beginPath();
            ctx.moveTo(180, y);
            ctx.lineTo(212, y);
            ctx.stroke();
            text(ctx, s, 219, y, 19.5);
          });
          const ax = X(gAchTime);
          ctx.fillStyle = '#000';
          ctx.beginPath();
          ctx.moveTo(ax - 7, 1332);
          ctx.lineTo(ax + 7, 1332);
          ctx.lineTo(ax, 1344);
          ctx.closePath();
          ctx.fill();
          text(ctx, 'ACh', ax + 14, 1336, 22);
          const sx0 = X(gScaleBarT);
          const sx1 = X(gScaleBarT + 0.5);
          const sy0 = Y(gScaleBarV);
          const sy1 = Y(gScaleBarV + 5);
          ctx.strokeStyle = '#000';
          ctx.lineWidth = 2.5;
          ctx.beginPath();
          ctx.moveTo(sx0, sy1);
          ctx.lineTo(sx0, sy0);
          ctx.lineTo(sx1, sy0);
          ctx.stroke();
          vtext(ctx, '5 pA', sx0 - 15, (sy0 + sy1) / 2, 19);
          text(ctx, '0.5 s', sx0 + 15, sy0 + 15, 19, 'center');
          ctx.restore();
        },
      },
    ],
  };
}

// ---------------- Panel h ----------------
const RH: Rect = { x: 400, y: 1240, w: 388, h: 387 };
const AH: Area = { x1: 496, y1: 1326, x2: 783, y2: 1538 };
function makeH() {
  return {
    type: 'line',
    data: {
      datasets: [
        {
          data: pts(hTime, hCharge),
          borderColor: LINE,
          borderWidth: 2.5,
          pointRadius: 3.8,
          pointBackgroundColor: 'rgb(165,165,169)',
          pointBorderColor: LINE,
          pointBorderWidth: 1.8,
          tension: 0,
          clip: false,
        },
      ],
    },
    options: {
      ...common(RH, AH, 96, 89),
      scales: {
        x: linAxis({ min: 0, max: 54, ticks: hTicksX, size: 89, tickLength: 8, pad: 1, font: 22 }),
        y: linAxis({ min: -25, max: 0, ticks: hTicksY, size: 96, tickLength: 10, pad: 5, font: 22 }),
      },
    },
    plugins: [
      {
        id: 'decorH',
        beforeDatasetsDraw: (chart: any) => {
          const ca = chart.chartArea;
          dashed(chart.ctx, ca.left, ca.right, chart.scales.y.getPixelForValue(0), 3, [7, 6]);
        },
        afterDraw: (chart: any) => {
          const ctx = chart.ctx;
          const ca = chart.chartArea;
          const X = (v: number) => chart.scales.x.getPixelForValue(v) + RH.x;
          const top = ca.top + RH.y;
          ctx.save();
          ctx.translate(-RH.x, -RH.y);
          letter(ctx, 'h', 407, 1280);
          ctx.fillStyle = '#000';
          ctx.fillRect(X(hCoumBar[0]), top - 18, X(hCoumBar[1]) - X(hCoumBar[0]), 9);
          ctx.fillRect(X(hDtcBar[0]), top - 18, X(hDtcBar[1]) - X(hDtcBar[0]), 9);
          text(ctx, 'Coumaphos (10 \u00b5M)', 545, top - 33, 22, 'center');
          text(ctx, 'd-TC', (X(hDtcBar[0]) + X(hDtcBar[1])) / 2 - 3, top - 33, 22, 'center');
          vtext(ctx, 'ACh response (pC)', 423, 1430, 22);
          text(ctx, 'Time (min)', 642, 1590, 22, 'center');
          ctx.restore();
        },
      },
    ],
  };
}

export default function App() {
  return (
    <div style={{ position: 'absolute', left: 0, top: 0, width: 788, height: 1627, background: '#fff', overflow: 'hidden' }}>
      <ChartBox rect={RA} make={makeA} />
      <ChartBox rect={RC} make={makeC} />
      <ChartBox rect={RB} make={makeB} />
      <ChartBox rect={RD} make={makeD} />
      <ChartBox rect={RE} make={makeE} />
      <ChartBox rect={RF} make={makeF} />
      <ChartBox rect={RG} make={makeG} />
      <ChartBox rect={RH} make={makeH} />
    </div>
  );
}
